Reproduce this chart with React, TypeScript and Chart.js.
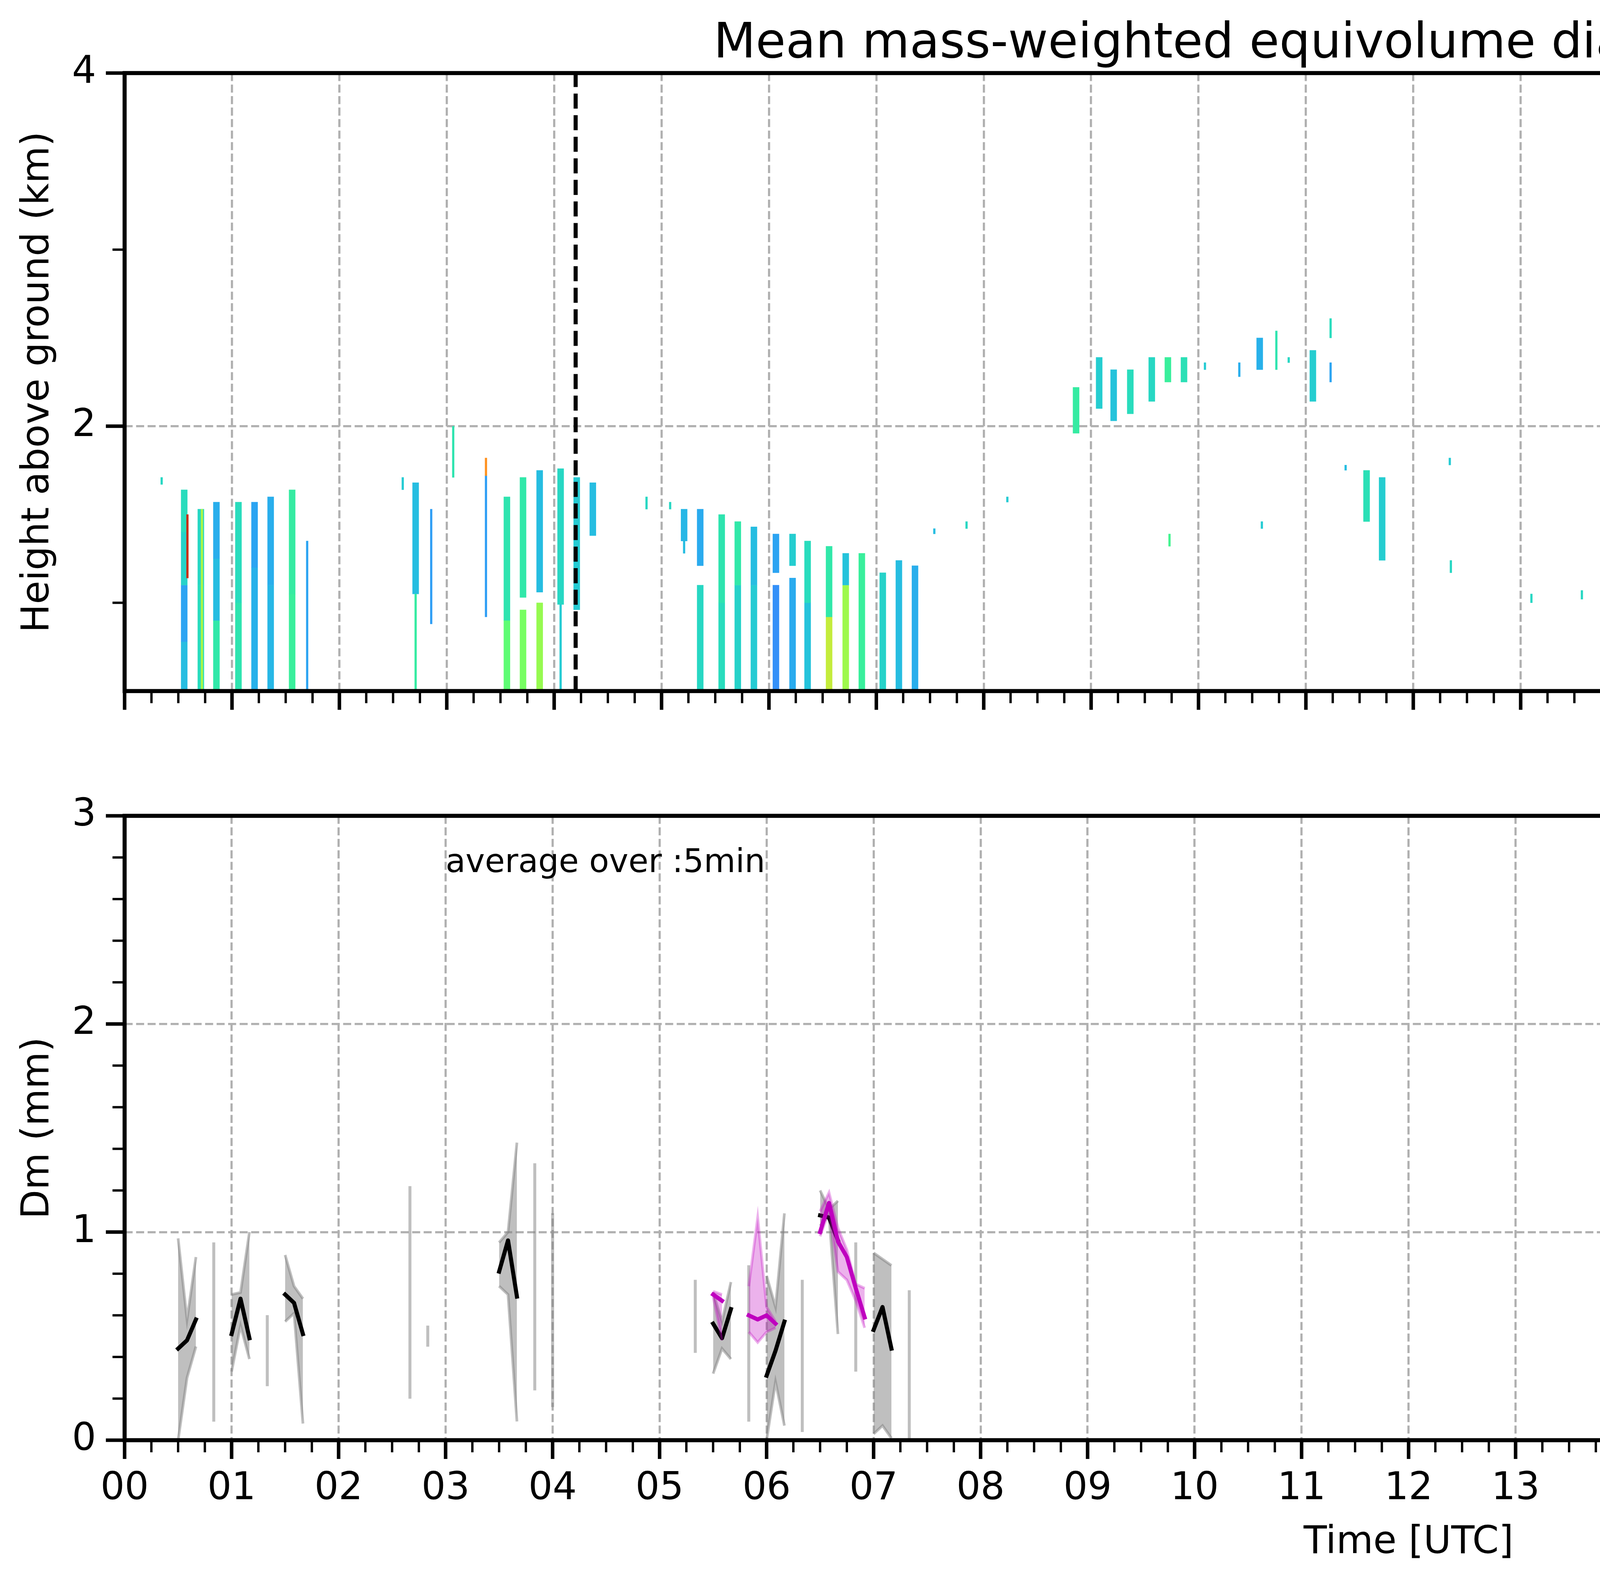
import { useEffect, useRef } from "react";
import { Chart, registerables } from "chart.js";

Chart.register(...registerables);

// ---------------- values ----------------
type Cell = [number, number, number, number]; // hour UTC, base km, top km, Dm mm
type Row = [number, number, number, number | null]; // minute of day, min, max, median (mm)

const title = "Mean mass-weighted equivolume diameter on 20250421";
const hourLabels = [
  "00", "01", "02", "03", "04", "05", "06", "07", "08", "09", "10", "11",
  "12", "13", "14", "15", "16", "17", "18", "19", "20", "21", "22", "23",
];
const heightTicks = [2, 4];
const dmTicks = [0, 1, 2, 3];
const colorbarTicks = [0, 0.4, 0.8, 1.2, 1.6, 2.0];
const dmRange = [0, 2];
const sunMarks = [4.2, 18.22];
const noDataSpan = [23.89, 24];
const averagingNote = "average over :5min";
const legendLabels = [
  "Min-Max Range radar Dm",
  "radar(xmacs-wmacs)_Dm_median",
  "Min-Max Range parsivel Dm",
  "parsivel_Dm_median",
];

// radar profiles (top panel), wide columns
const nightCells: Cell[] = [
  [0.555, 0.5, 0.78, 0.5], [0.555, 0.78, 1.1, 0.42], [0.555, 1.1, 1.4, 0.58], [0.555, 1.4, 1.64, 0.62],
  [0.71, 0.5, 1.1, 0.62], [0.71, 1.1, 1.53, 0.6],
  [0.855, 0.5, 0.9, 0.68], [0.855, 0.9, 1.25, 0.5], [0.855, 1.25, 1.57, 0.45],
  [1.06, 0.5, 1.0, 0.66], [1.06, 1.0, 1.57, 0.62],
  [1.21, 0.5, 1.2, 0.46], [1.21, 1.2, 1.57, 0.42],
  [1.36, 0.5, 1.1, 0.48], [1.36, 1.1, 1.6, 0.45],
  [1.56, 0.5, 1.05, 0.72], [1.56, 1.05, 1.64, 0.7],
];
const dawnCells: Cell[] = [
  [2.71, 1.05, 1.68, 0.5],
  [3.56, 0.5, 0.9, 0.85], [3.56, 0.9, 1.6, 0.66],
  [3.71, 0.5, 0.96, 0.92], [3.71, 1.03, 1.71, 0.68],
  [3.865, 0.5, 1.0, 1.0], [3.865, 1.06, 1.75, 0.5],
  [4.06, 0.99, 1.76, 0.6],
  [4.21, 0.96, 1.71, 0.55],
  [4.36, 1.38, 1.68, 0.5],
];
const morningCells: Cell[] = [
  [5.21, 1.35, 1.53, 0.48],
  [5.36, 0.5, 1.1, 0.6], [5.36, 1.21, 1.53, 0.44],
  [5.56, 0.5, 1.0, 0.62], [5.56, 1.0, 1.5, 0.66],
  [5.71, 0.5, 1.1, 0.58], [5.71, 1.1, 1.46, 0.68],
  [5.86, 0.5, 1.1, 0.55], [5.86, 1.1, 1.43, 0.5],
  [6.065, 0.5, 1.1, 0.36], [6.065, 1.17, 1.39, 0.42],
  [6.22, 0.5, 1.14, 0.44], [6.22, 1.21, 1.39, 0.56],
  [6.36, 0.5, 1.0, 0.52], [6.36, 1.0, 1.35, 0.62],
  [6.56, 0.5, 0.92, 1.12], [6.56, 0.92, 1.32, 0.68],
  [6.715, 0.5, 1.1, 1.02], [6.715, 1.1, 1.28, 0.52],
  [6.865, 0.5, 1.28, 0.72],
  [7.06, 0.5, 1.17, 0.58],
  [7.21, 0.5, 1.24, 0.5],
  [7.36, 0.5, 1.21, 0.45],
];
const upperCells: Cell[] = [
  [8.86, 1.96, 2.22, 0.7], [9.075, 2.1, 2.39, 0.56], [9.21, 2.03, 2.32, 0.52],
  [9.365, 2.07, 2.32, 0.62], [9.565, 2.14, 2.39, 0.6], [9.715, 2.25, 2.39, 0.72],
  [9.865, 2.25, 2.39, 0.64], [10.57, 2.32, 2.5, 0.46], [11.065, 2.14, 2.43, 0.56],
  [11.565, 1.46, 1.75, 0.64], [11.71, 1.24, 1.71, 0.56],
];
const eveningCells: Cell[] = [
  [17.345, 1.35, 1.57, 0.44],
  [18.06, 1.14, 1.53, 0.5],
  [18.22, 0.5, 1.5, 0.55],
  [18.36, 0.5, 1.35, 0.92],
  [18.57, 0.99, 1.39, 0.6],
  [18.71, 0.5, 1.05, 0.52], [18.71, 1.05, 1.5, 0.48],
  [18.865, 0.5, 1.0, 0.72], [18.865, 1.0, 1.46, 0.62],
  [19.06, 0.5, 1.1, 0.6], [19.06, 1.1, 1.5, 0.78],
  [19.58, 1.1, 1.42, 0.45],
  [20.08, 1.14, 1.35, 0.62],
  [20.22, 1.24, 1.46, 0.5],
];
const lateCells: Cell[] = [
  [20.565, 0.5, 1.28, 0.72], [20.71, 0.5, 1.35, 0.5], [20.86, 0.5, 1.42, 0.4],
  [21.06, 0.5, 1.35, 0.56], [21.21, 0.5, 1.39, 0.55], [21.36, 0.5, 1.39, 0.46],
  [21.56, 0.5, 1.32, 0.5], [21.71, 0.5, 1.28, 0.64], [21.86, 0.5, 1.25, 0.86],
  [22.21, 0.5, 1.32, 0.66], [22.36, 0.5, 1.28, 0.74], [22.565, 0.5, 1.21, 0.96],
  [22.71, 0.5, 1.1, 1.06], [22.86, 0.5, 1.06, 1.0], [23.06, 0.5, 1.14, 0.76],
  [23.215, 0.5, 1.14, 0.8], [23.36, 0.5, 1.06, 0.8], [23.565, 0.5, 1.06, 0.9],
  [23.71, 0.5, 1.06, 0.96], [23.865, 0.5, 1.06, 0.92],
];
// narrow streaks and isolated echoes
const streakCells: Cell[] = [
  [0.345, 1.67, 1.71, 0.6], [0.585, 1.14, 1.5, 1.75], [0.72, 0.5, 1.53, 1.05],
  [1.7, 0.5, 1.35, 0.42], [2.59, 1.64, 1.71, 0.55], [2.71, 0.5, 1.05, 0.7],
  [2.855, 0.88, 1.53, 0.4], [3.06, 1.71, 2.0, 0.66], [3.365, 0.92, 1.72, 0.4],
  [3.365, 1.72, 1.82, 1.45], [4.06, 0.5, 0.99, 0.55], [4.86, 1.53, 1.6, 0.6],
  [5.08, 1.53, 1.57, 0.6], [5.21, 1.28, 1.35, 0.5], [7.54, 1.39, 1.42, 0.5],
  [7.84, 1.42, 1.46, 0.6], [8.22, 1.57, 1.6, 0.55], [9.73, 1.32, 1.39, 0.76],
  [10.06, 2.32, 2.36, 0.55], [10.38, 2.28, 2.36, 0.45], [10.59, 1.42, 1.46, 0.55],
  [10.725, 2.32, 2.54, 0.66], [10.84, 2.36, 2.39, 0.6], [11.23, 2.5, 2.61, 0.62],
  [11.23, 2.25, 2.36, 0.42], [11.37, 1.75, 1.78, 0.5], [12.34, 1.78, 1.82, 0.55],
  [12.35, 1.17, 1.24, 0.6], [13.1, 1.0, 1.05, 0.6], [13.57, 1.02, 1.07, 0.6],
  [17.23, 1.46, 1.5, 0.5], [17.35, 1.17, 1.35, 0.7], [18.06, 0.99, 1.14, 0.6],
  [18.37, 1.35, 1.53, 0.8], [19.21, 1.24, 1.35, 0.45], [20.08, 1.24, 1.28, 1.7],
  [20.22, 0.95, 1.24, 0.45], [20.37, 1.42, 1.46, 0.5], [20.58, 0.6, 0.92, 1.55],
];

// 5-minute statistics (bottom panel); runs are contiguous samples
const radarNight: Row[][] = [
  [[30, 0.0, 0.97, 0.44], [35, 0.3, 0.58, 0.48], [40, 0.45, 0.88, 0.58]],
  [[50, 0.09, 0.95, null]],
  [[60, 0.33, 0.7, 0.51], [65, 0.55, 0.71, 0.68], [70, 0.39, 1.0, 0.49]],
  [[80, 0.26, 0.6, null]],
  [[90, 0.57, 0.89, 0.7], [95, 0.61, 0.74, 0.66], [100, 0.08, 0.68, 0.51]],
  [[160, 0.2, 1.22, null]],
  [[170, 0.45, 0.55, null]],
  [[210, 0.74, 0.95, 0.81], [215, 0.7, 1.0, 0.96], [220, 0.09, 1.43, 0.69]],
  [[230, 0.24, 1.33, null]],
  [[240, 0.16, 1.09, null]],
  [[320, 0.42, 0.77, null]],
  [[330, 0.32, 0.71, 0.56], [335, 0.44, 0.57, 0.49], [340, 0.39, 0.76, 0.63]],
  [[350, 0.09, 0.84, null]],
  [[360, 0.0, 0.79, 0.31], [365, 0.28, 0.64, 0.43], [370, 0.07, 1.09, 0.57]],
  [[380, 0.04, 0.77, null]],
  [[390, 1.03, 1.2, 1.08], [395, 1.08, 1.11, 1.07], [400, 0.51, 1.15, 0.96]],
  [[410, 0.33, 0.95, null]],
  [[420, 0.03, 0.9, 0.53], [425, 0.07, 0.87, 0.64], [430, 0.01, 0.84, 0.44]],
  [[440, 0.0, 0.72, null]],
];
const radarEvening: Row[][] = [
  [[1090, 0.22, 0.74, null]],
  [[1100, 0.3, 1.13, null]],
  [[1120, 0.09, 1.0, null]],
  [[1130, 0.01, 0.84, null]],
  [[1140, 0.01, 0.875, 0.56], [1145, 0.05, 0.97, 0.71]],
  [[1230, 0.02, 1.93, 1.26], [1235, 0.28, 1.29, 0.67], [1240, 0.01, 0.95, 0.55]],
  [[1250, 0.09, 0.83, null]],
  [[1260, 0.49, 0.84, 0.64], [1265, 0.52, 0.66, 0.55], [1270, 0.06, 0.74, 0.52]],
  [[1280, 0.3, 0.58, null]],
  [[1290, 0.04, 0.82, 0.51], [1295, 0.13, 0.84, 0.62], [1300, 0.15, 0.82, 0.64]],
  [[1310, 0.07, 1.11, null]],
  [[1330, 0.28, 0.93, null]],
  [[1340, 0.23, 0.95, null]],
  [[1350, 0.65, 1.09, 0.81], [1355, 0.77, 1.14, 1.05], [1360, 0.94, 1.27, 0.94]],
  [[1370, 0.71, 1.14, null]],
  [[1380, 0.62, 1.0, 0.76], [1385, 0.71, 0.81, 0.74], [1390, 0.63, 0.94, 0.82]],
  [[1400, 0.54, 0.95, null]],
  [[1410, 0.68, 1.12, 0.78], [1415, 0.73, 0.875, 0.785], [1420, 0.85, 1.02, 0.93]],
  [[1430, 0.88, 1.01, null]],
];
const parsivelRuns: Row[][] = [
  [[330, 0.69, 0.715, 0.7], [335, 0.48, 0.7, 0.67]],
  [[350, 0.52, 0.74, 0.6], [355, 0.47, 1.07, 0.58], [360, 0.52, 0.64, 0.6], [365, 0.54, 0.57, 0.56]],
  [[390, 0.98, 1.1, 1.0], [395, 1.1, 1.19, 1.14], [400, 0.81, 1.02, 0.955],
   [405, 0.77, 0.915, 0.88], [410, 0.67, 0.75, 0.73], [415, 0.54, 0.73, 0.59]],
  [[1115, 0.89, 0.9, 0.895], [1120, 0.99, 1.0, 1.0]],
];

// ---------------- styling / layout (figure was 500 dpi) ----------------
const PT = 500 / 72;
const FONT = "'DejaVu Sans', sans-serif";
const GRID = { color: "#b0b0b0", lineWidth: 0.8 * PT, drawTicks: false, offset: false };
const GRID_BORDER = { display: false, dash: [3.7 * 0.8 * PT, 1.6 * 0.8 * PT] };
const RADAR_FILL = "rgba(128,128,128,0.5)";
const PARS_FILL = "rgba(191,0,191,0.3)";
const PARS_LINE = "#bf00bf";

const FIG = { w: 7442, h: 4031 };
const AX = { left: 319, right: 6917 };
const TOP = { top: 187, bottom: 1784 };
const BOT = { top: 2088, bottom: 3686 };
const CBAR = { left: 6993, right: 7107 };
const topBox = { x: 0, y: 0, w: 6960, h: 1900 };
const botBox = { x: 0, y: 1950, w: 6960, h: FIG.h - 1950 };
const cbarBox = { x: 6960, y: 0, w: FIG.w - 6960, h: 1900 };

function turbo(t: number): string {
  const x = Math.min(1, Math.max(0, t));
  const r = 0.13572138 + x * (4.6153926 + x * (-42.66032258 + x * (132.13108234 + x * (-152.94239396 + x * 59.28637943))));
  const g = 0.09140261 + x * (2.19418839 + x * (4.84296658 + x * (-14.18503333 + x * (4.27729857 + x * 2.82956604))));
  const b = 0.1066733 + x * (12.64194608 + x * (-60.58204836 + x * (110.36276771 + x * (-89.90310912 + x * 27.34824973))));
  const c = (v: number) => Math.round(255 * Math.min(1, Math.max(0, v)));
  return `rgb(${c(r)},${c(g)},${c(b)})`;
}
const dmColor = (dm: number) => turbo((dm - dmRange[0]) / (dmRange[1] - dmRange[0]));

const hourTicks = Array.from({ length: 25 }, (_, h) => h);
const labelledHours = hourLabels.map((_, h) => h);
const quarterTicks = Array.from({ length: 97 }, (_, q) => q / 4).filter((v) => v % 1 !== 0 || v === 24);
const dmMinor = Array.from({ length: 16 }, (_, i) => i * 0.2).filter((_, i) => i % 5 !== 0);

function framePlugin(spec: any) {
  return {
    id: "frame",
    afterDraw(chart: any) {
      const { ctx, chartArea: a } = chart;
      const xs = chart.scales.x;
      const ys = chart.scales.y;
      ctx.save();
      ctx.strokeStyle = "#000";
      ctx.lineCap = "butt";
      const seg = (x1: number, y1: number, x2: number, y2: number, w: number) => {
        ctx.lineWidth = w;
        ctx.beginPath();
        ctx.moveTo(x1, y1);
        ctx.lineTo(x2, y2);
        ctx.stroke();
      };
      const xTicks = (vals: number[], [len, w]: number[]) =>
        vals.forEach((v) => {
          const p = xs.getPixelForValue(v);
          seg(p, a.bottom, p, a.bottom + len, w);
        });
      const yTicks = (vals: number[], [len, w]: number[]) =>
        vals.forEach((v) => {
          const p = ys.getPixelForValue(v);
          if (spec.ySide === "right") seg(a.right, p, a.right + len, p, w);
          else seg(a.left, p, a.left - len, p, w);
        });
      if (spec.xMajor) xTicks(spec.xMajor, spec.major);
      if (spec.xMinor) xTicks(spec.xMinor, spec.minor);
      yTicks(spec.yMajor, spec.major);
      if (spec.yMinor) yTicks(spec.yMinor, spec.minor);
      ctx.lineWidth = spec.spine;
      ctx.strokeRect(a.left, a.top, a.right - a.left, a.bottom - a.top);
      ctx.restore();
    },
  };
}

function cellData(cells: Cell[]) {
  return cells.map((c) => ({ x: c[0], y: [c[1], c[2]] }));
}

function runsToLine(runs: Row[][], col: 1 | 2 | 3) {
  const out: { x: number; y: number | null }[] = [];
  runs.forEach((run) => {
    run.forEach((r) => out.push({ x: r[0] / 60, y: r[col] }));
    out.push({ x: (run[run.length - 1][0] + 5) / 60, y: null });
  });
  return out;
}

const baseOptions = {
  responsive: false,
  animation: false,
  devicePixelRatio: 1,
  events: [],
  plugins: { legend: { display: false }, tooltip: { enabled: false } },
};

const tickFont = { family: FONT, size: 14 * PT };
const cbarFont = { family: FONT, size: 12 * PT };

function heightConfig(): any {
  const cells = [...nightCells, ...dawnCells, ...morningCells, ...upperCells, ...eveningCells, ...lateCells];
  return {
    type: "line",
    data: {
      datasets: [
        ...sunMarks.map((h) => ({
          type: "line",
          data: [{ x: h, y: 0.5 }, { x: h, y: 4 }],
          borderColor: "#000",
          borderWidth: 1.5 * PT,
          borderDash: [3.7 * 1.5 * PT, 1.6 * 1.5 * PT],
          pointRadius: 0,
          order: 0,
        })),
        {
          type: "bar",
          data: cellData(streakCells),
          backgroundColor: streakCells.map((c) => dmColor(c[3])),
          barThickness: 5,
          grouped: false,
          borderWidth: 0,
          order: 1,
        },
        {
          type: "bar",
          data: cellData(cells),
          backgroundColor: cells.map((c) => dmColor(c[3])),
          barThickness: 16,
          grouped: false,
          borderWidth: 0,
          order: 2,
        },
        {
          type: "line",
          data: noDataSpan.map((h) => ({ x: h, y: 4 })),
          fill: "start",
          backgroundColor: "#d9d9d9",
          borderWidth: 0,
          pointRadius: 0,
          order: 3,
        },
      ],
    },
    options: {
      ...baseOptions,
      layout: { padding: { top: TOP.top, right: topBox.w - AX.right, left: 0, bottom: 0 }, autoPadding: false },
      scales: {
        x: {
          type: "linear",
          min: 0,
          max: 24,
          offset: false,
          afterBuildTicks: (s: any) => { s.ticks = hourTicks.map((v) => ({ value: v })); },
          afterFit: (s: any) => { s.height = topBox.h - TOP.bottom; },
          ticks: { display: false },
          grid: GRID,
          border: GRID_BORDER,
        },
        y: {
          min: 0.5,
          max: 4,
          afterBuildTicks: (s: any) => { s.ticks = heightTicks.map((v) => ({ value: v })); },
          afterFit: (s: any) => { s.width = AX.left; },
          ticks: { font: tickFont, color: "#000", padding: 73, callback: (v: any) => String(v) },
          grid: GRID,
          border: GRID_BORDER,
          title: {
            display: true,
            text: "Height above ground (km)",
            font: tickFont,
            color: "#000",
            padding: { top: 40, bottom: 0 },
          },
        },
      },
    },
    plugins: [
      framePlugin({
        xMajor: labelledHours, xMinor: quarterTicks, yMajor: heightTicks, yMinor: [1, 3],
        major: [48, 9], minor: [31, 6], spine: 1.5 * PT,
      }),
      {
        id: "title",
        afterDraw(chart: any) {
          const { ctx, chartArea: a } = chart;
          ctx.save();
          ctx.fillStyle = "#000";
          ctx.font = `${18 * PT}px ${FONT}`;
          ctx.textAlign = "center";
          ctx.textBaseline = "alphabetic";
          ctx.fillText(title, (a.left + a.right) / 2, a.top - 40);
          ctx.restore();
        },
      },
    ],
  };
}

function colorbarConfig(): any {
  return {
    type: "bar",
    data: {
      labels: ["Dm"],
      datasets: [
        {
          data: [dmRange],
          barPercentage: 1,
          categoryPercentage: 1,
          borderWidth: 0,
          backgroundColor: (c: any) => {
            const { chart } = c;
            const a = chart.chartArea;
            if (!a) return "#888";
            const g = chart.ctx.createLinearGradient(0, a.bottom, 0, a.top);
            for (let i = 0; i <= 32; i++) g.addColorStop(i / 32, turbo(i / 32));
            return g;
          },
        },
      ],
    },
    options: {
      ...baseOptions,
      layout: { padding: { top: TOP.top, left: CBAR.left - cbarBox.x, right: 0, bottom: cbarBox.h - TOP.bottom }, autoPadding: false },
      scales: {
        x: { display: false },
        y: {
          position: "right",
          min: dmRange[0],
          max: dmRange[1],
          afterBuildTicks: (s: any) => { s.ticks = colorbarTicks.map((v) => ({ value: v })); },
          afterFit: (s: any) => { s.width = FIG.w - CBAR.right; },
          ticks: { font: cbarFont, color: "#000", padding: 49, callback: (v: any) => Number(v).toFixed(1) },
          grid: { display: false, drawTicks: false },
          border: { display: false },
        },
      },
    },
    plugins: [
      framePlugin({ yMajor: colorbarTicks, ySide: "right", major: [20, 7], minor: [0, 0], spine: 5 }),
      {
        id: "cbarLabel",
        afterDraw(chart: any) {
          const { ctx, chartArea: a } = chart;
          ctx.save();
          ctx.translate(a.right + 238, (a.top + a.bottom) / 2);
          ctx.rotate(-Math.PI / 2);
          ctx.fillStyle = "#000";
          ctx.font = `${12 * PT}px ${FONT}`;
          ctx.textAlign = "center";
          ctx.textBaseline = "middle";
          ctx.fillText("Dm (mm)", 0, 0);
          ctx.restore();
        },
      },
    ],
  };
}

function dmConfig(): any {
  const radarRuns = [...radarNight, ...radarEvening];
  const singles = radarRuns
    .filter((r) => r.length === 1)
    .map((r) => ({ x: r[0][0] / 60, y: [r[0][1], r[0][2]] }));
  const edge = { pointRadius: 0, borderWidth: 1 * PT, spanGaps: false };
  return {
    type: "line",
    data: {
      datasets: [
        { label: legendLabels[0], data: runsToLine(radarRuns, 2), borderColor: RADAR_FILL, backgroundColor: RADAR_FILL, fill: "+1", order: 5, ...edge },
        { data: runsToLine(radarRuns, 1), borderColor: RADAR_FILL, backgroundColor: RADAR_FILL, fill: false, order: 5, ...edge },
        { type: "bar", data: singles, backgroundColor: RADAR_FILL, barThickness: 1 * PT, grouped: false, borderWidth: 0, order: 4 },
        {
          label: legendLabels[1], data: runsToLine(radarRuns, 3), borderColor: "#000", borderWidth: 1.5 * PT,
          pointRadius: 0, fill: false, spanGaps: false, borderCapStyle: "square", borderJoinStyle: "round", order: 3,
        },
        { label: legendLabels[2], data: runsToLine(parsivelRuns, 2), borderColor: PARS_FILL, backgroundColor: PARS_FILL, fill: "+1", order: 2, ...edge },
        { data: runsToLine(parsivelRuns, 1), borderColor: PARS_FILL, backgroundColor: PARS_FILL, fill: false, order: 2, ...edge },
        {
          label: legendLabels[3], data: runsToLine(parsivelRuns, 3), borderColor: PARS_LINE, borderWidth: 1.5 * PT,
          pointRadius: 0, fill: false, spanGaps: false, borderCapStyle: "square", borderJoinStyle: "round", order: 1,
        },
      ],
    },
    options: {
      ...baseOptions,
      layout: { padding: { top: BOT.top - botBox.y, right: botBox.w - AX.right, left: 0, bottom: 0 }, autoPadding: false },
      scales: {
        x: {
          type: "linear",
          min: 0,
          max: 24,
          offset: false,
          afterBuildTicks: (s: any) => { s.ticks = hourTicks.map((v) => ({ value: v })); },
          afterFit: (s: any) => { s.height = FIG.h - BOT.bottom; },
          ticks: {
            font: tickFont, color: "#000", padding: 67, autoSkip: false, maxRotation: 0,
            callback: (v: any) => hourLabels[v] ?? "",
          },
          grid: GRID,
          border: GRID_BORDER,
          title: { display: true, text: "Time [UTC]", font: tickFont, color: "#000", padding: { top: 0, bottom: 23 } },
        },
        y: {
          min: 0,
          max: 3,
          afterBuildTicks: (s: any) => { s.ticks = dmTicks.map((v) => ({ value: v })); },
          afterFit: (s: any) => { s.width = AX.left; },
          ticks: { font: tickFont, color: "#000", padding: 73, callback: (v: any) => String(v) },
          grid: GRID,
          border: GRID_BORDER,
          title: { display: true, text: "Dm (mm)", font: tickFont, color: "#000", padding: { top: 40, bottom: 0 } },
        },
      },
    },
    plugins: [
      framePlugin({
        xMajor: labelledHours, xMinor: quarterTicks, yMajor: dmTicks, yMinor: dmMinor,
        major: [48, 9], minor: [31, 6], spine: 1.5 * PT,
      }),
      {
        id: "notes",
        afterDraw(chart: any) {
          const { ctx, chartArea: a, scales } = chart;
          ctx.save();
          ctx.fillStyle = "#000";
          ctx.font = `${12 * PT}px ${FONT}`;
          ctx.textAlign = "left";
          ctx.textBaseline = "alphabetic";
          ctx.fillText(averagingNote, scales.x.getPixelForValue(3.0), scales.y.getPixelForValue(2.73));

          // legend, upper right
          const fs = 10 * PT;
          const bw = 1432;
          const bh = 433;
          const bx = a.right - 36 - bw;
          const by = a.top + 32;
          ctx.beginPath();
          ctx.roundRect(bx, by, bw, bh, 14);
          ctx.fillStyle = "rgba(255,255,255,0.8)";
          ctx.fill();
          ctx.lineWidth = 1 * PT;
          ctx.strokeStyle = "#cccccc";
          ctx.stroke();
          const rows = [89, 190, 294, 396];
          const hx0 = bx + 24;
          const hx1 = bx + 167;
          const kinds = [
            { patch: RADAR_FILL }, { line: "#000" }, { patch: PARS_FILL }, { line: PARS_LINE },
          ];
          rows.forEach((dy, i) => {
            const cy = a.top + dy;
            const k: any = kinds[i];
            if (k.patch) {
              ctx.fillStyle = k.patch;
              ctx.fillRect(hx0, cy - 25, hx1 - hx0, 50);
              ctx.strokeStyle = k.patch;
              ctx.lineWidth = 1 * PT;
              ctx.strokeRect(hx0, cy - 25, hx1 - hx0, 50);
            } else {
              ctx.strokeStyle = k.line;
              ctx.lineWidth = 1.5 * PT;
              ctx.beginPath();
              ctx.moveTo(hx0, cy);
              ctx.lineTo(hx1, cy);
              ctx.stroke();
            }
            ctx.fillStyle = "#000";
            ctx.font = `${fs}px ${FONT}`;
            ctx.textBaseline = "middle";
            ctx.fillText(legendLabels[i], bx + 222, cy);
          });
          ctx.restore();
        },
      },
    ],
  };
}

function ChartCanvas({ box, build }: { box: { x: number; y: number; w: number; h: number }; build: () => any }) {
  const ref = useRef<HTMLCanvasElement>(null);
  useEffect(() => {
    const canvas = ref.current;
    if (!canvas) return;
    const chart = new Chart(canvas, build());
    return () => chart.destroy();
  }, [build]);
  return (
    <canvas
      ref={ref}
      width={box.w}
      height={box.h}
      style={{ position: "absolute", left: box.x, top: box.y, width: box.w, height: box.h }}
    />
  );
}

export default function App() {
  return (
    <div style={{ position: "absolute", left: 0, top: 0, width: FIG.w, height: FIG.h, background: "#fff", overflow: "hidden" }}>
      <ChartCanvas box={topBox} build={heightConfig} />
      <ChartCanvas box={cbarBox} build={colorbarConfig} />
      <ChartCanvas box={botBox} build={dmConfig} />
    </div>
  );
}
